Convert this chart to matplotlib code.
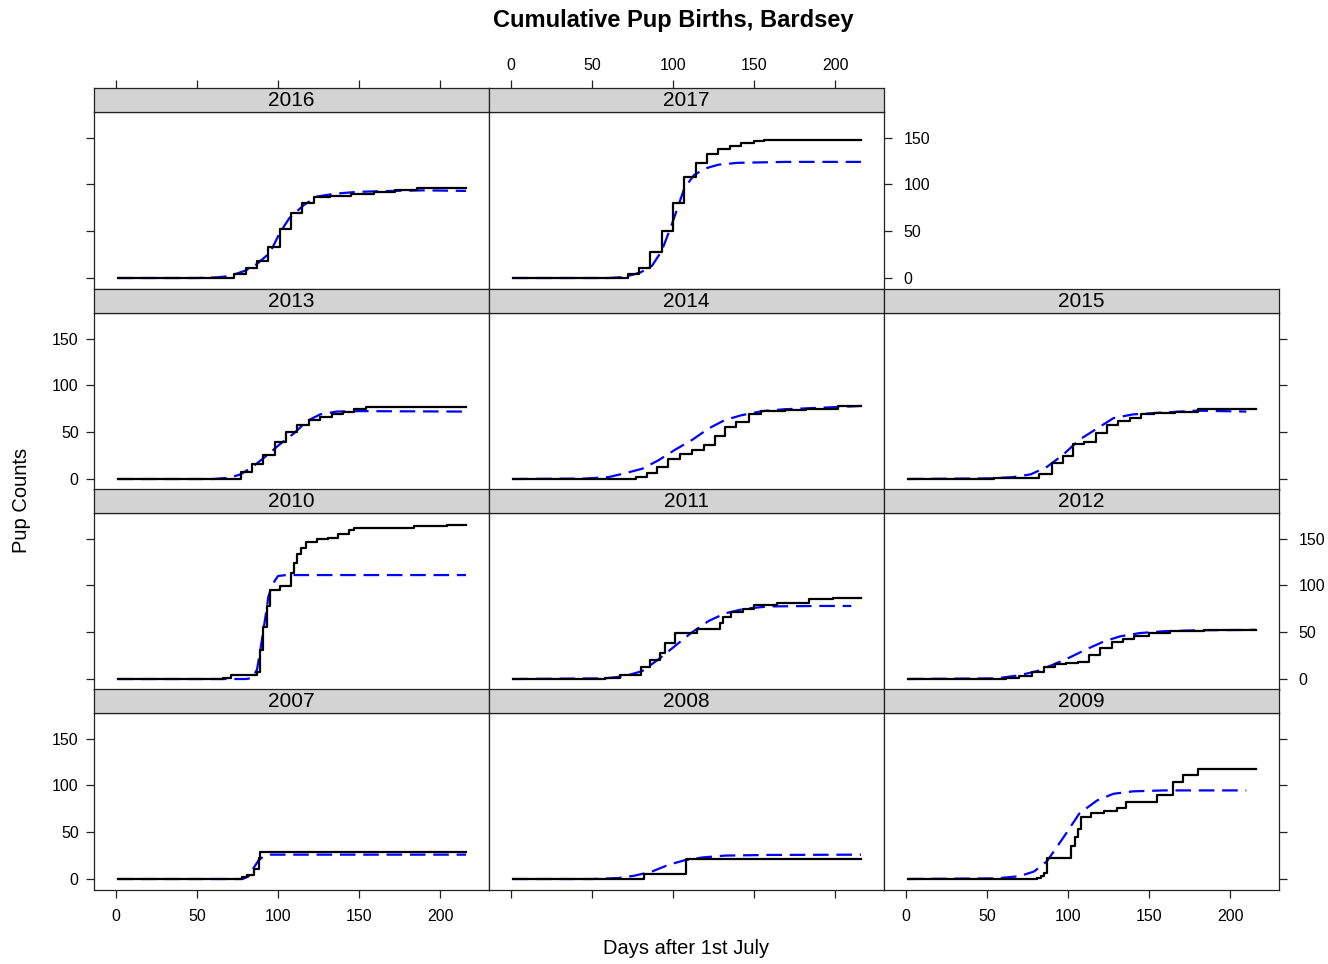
import numpy as np
from matplotlib import pyplot as plt

plt.rcParams['font.family'] = ['Liberation Sans', 'DejaVu Sans']

# observed cumulative pup counts (step data) and fitted curves, per season
obs_day_2016 = [1, 73, 80, 87, 94, 101, 108, 115, 122, 132, 145, 159, 172, 186, 216]
obs_n_2016 = [0, 4, 11, 18, 33, 52, 69, 80, 86, 88, 90, 92, 94, 96, 96]
fit_day_2016 = [1, 50, 62, 70, 80, 87, 95, 101, 107, 116, 124, 135, 149, 170, 190, 216]
fit_n_2016 = [0, 0, 0.7, 2, 8, 15, 27, 48, 64, 78, 87, 90, 92, 93, 93.6, 93]

obs_day_2017 = [1, 72, 79, 86, 93, 100, 107, 114, 121, 128, 135, 142, 150, 156, 216]
obs_n_2017 = [0, 4, 11, 28, 50, 80, 108, 123, 132, 138, 141, 144, 146, 147, 147]
fit_day_2017 = [1, 60, 70, 80, 87, 93, 99, 103, 107, 113, 120, 128, 140, 170, 216]
fit_n_2017 = [0, 0, 1, 6, 13, 29, 56, 76, 96, 110, 117, 121, 123, 124, 124]

obs_day_2013 = [1, 77, 84, 91, 98, 105, 112, 119, 126, 133, 140, 147, 154, 216]
obs_n_2013 = [0, 7, 16, 26, 40, 50, 58, 63, 66, 69, 72, 75, 77, 77]
fit_day_2013 = [1, 60, 70, 77, 85, 93, 101, 110, 118, 126, 136, 149, 216]
fit_n_2013 = [0, 0, 1.4, 5, 14, 25, 37, 49, 62, 69, 72, 72.5, 72]

obs_day_2014 = [1, 77, 84, 90, 97, 104, 112, 119, 126, 132, 139, 147, 154, 169, 182, 202, 216]
obs_n_2014 = [0, 2, 6, 13, 21, 27, 31, 36, 46, 56, 61, 69, 73, 74, 75, 78, 78]
fit_day_2014 = [1, 46, 60, 70, 81, 91, 101, 112, 122, 132, 142, 155, 169, 190, 216]
fit_n_2014 = [0, 0.5, 2, 6, 11, 20, 31, 42, 54, 63, 68, 72.5, 74.5, 76, 78]

obs_day_2015 = [1, 54, 82, 90, 97, 103, 110, 117, 124, 131, 138, 145, 153, 166, 180, 216]
obs_n_2015 = [0, 1, 5, 17, 25, 37, 40, 49, 58, 62, 65, 69, 71, 72, 75, 75]
fit_day_2015 = [1, 52, 66, 77, 87, 97, 107, 118, 128, 140, 159, 179, 210]
fit_n_2015 = [0, 0.7, 2, 5, 13, 26, 42, 54, 65, 69, 71, 73, 72]

obs_day_2010 = [1, 66, 71, 87, 89, 91, 93, 95, 101, 108, 110, 112, 114, 117, 124, 131, 137, 144, 147, 184, 204, 216]
obs_n_2010 = [0, 1, 4, 7, 31, 56, 78, 95, 99, 113, 124, 134, 140, 146, 149, 151, 155, 159, 161, 163, 164, 164]
fit_day_2010 = [1, 80, 84, 87, 89, 91, 93, 94, 96, 98, 100, 105, 216]
fit_n_2010 = [0, 0, 1, 10, 30, 53, 75, 88, 98, 105, 110, 111, 111]

obs_day_2011 = [1, 58, 67, 80, 86, 92, 95, 101, 115, 129, 131, 136, 143, 150, 164, 184, 199, 216]
obs_n_2011 = [0, 1, 4, 13, 20, 28, 38, 49, 53, 60, 66, 72, 75, 79, 81, 85, 87, 87]
fit_day_2011 = [1, 58, 70, 81, 91, 101, 111, 122, 132, 144, 159, 190, 210]
fit_n_2011 = [0, 0.7, 3, 8.5, 21, 35, 49, 62, 70, 75, 77.5, 78, 78]

obs_day_2012 = [1, 62, 70, 78, 85, 92, 99, 106, 113, 120, 127, 134, 141, 150, 163, 184, 216]
obs_n_2012 = [0, 1, 3, 8, 13, 16, 17, 18, 26, 33, 39, 43, 46, 49, 51, 52, 52]
fit_day_2012 = [1, 56, 70, 81, 91, 101, 111, 122, 132, 144, 159, 179, 216]
fit_n_2012 = [0, 0.7, 4, 8.5, 15.5, 23, 31.5, 40, 45.5, 49, 51, 52, 52.5]

obs_day_2007 = [1, 78, 81, 85, 88, 89, 216]
obs_n_2007 = [0, 2, 4, 11, 22, 29, 29]
fit_day_2007 = [1, 78, 82, 85, 88, 91, 95, 216]
fit_n_2007 = [0, 0, 3, 12, 20, 24, 26, 26]

obs_day_2008 = [1, 82, 108, 216]
obs_n_2008 = [0, 5, 21, 21]
fit_day_2008 = [1, 50, 66, 76, 87, 97, 107, 118, 132, 159, 216]
fit_n_2008 = [0, 0, 1, 3.5, 8, 15, 20, 23, 25, 25.7, 26]

obs_day_2009 = [1, 81, 83, 85, 87, 102, 104, 106, 108, 114, 122, 130, 136, 155, 165, 171, 180, 216]
obs_n_2009 = [0, 1, 3, 6, 22, 35, 45, 53, 66, 70, 73, 76, 82, 90, 104, 111, 118, 118]
fit_day_2009 = [1, 56, 70, 79, 87, 97, 107, 118, 128, 140, 159, 210]
fit_n_2009 = [0, 0.7, 3, 8, 19, 44, 70, 84, 91, 93.6, 94.6, 94.6]

panels = {
    2016: (0, 0, obs_day_2016, obs_n_2016, fit_day_2016, fit_n_2016),
    2017: (0, 1, obs_day_2017, obs_n_2017, fit_day_2017, fit_n_2017),
    2013: (1, 0, obs_day_2013, obs_n_2013, fit_day_2013, fit_n_2013),
    2014: (1, 1, obs_day_2014, obs_n_2014, fit_day_2014, fit_n_2014),
    2015: (1, 2, obs_day_2015, obs_n_2015, fit_day_2015, fit_n_2015),
    2010: (2, 0, obs_day_2010, obs_n_2010, fit_day_2010, fit_n_2010),
    2011: (2, 1, obs_day_2011, obs_n_2011, fit_day_2011, fit_n_2011),
    2012: (2, 2, obs_day_2012, obs_n_2012, fit_day_2012, fit_n_2012),
    2007: (3, 0, obs_day_2007, obs_n_2007, fit_day_2007, fit_n_2007),
    2008: (3, 1, obs_day_2008, obs_n_2008, fit_day_2008, fit_n_2008),
    2009: (3, 2, obs_day_2009, obs_n_2009, fit_day_2009, fit_n_2009),
}

x_ticks = [0, 50, 100, 150, 200]
y_ticks = [0, 50, 100, 150]
XLIM = (-13.6, 230.2)
YLIM = (-11.2, 177.8)

W, H = 1328, 964
fig = plt.figure(figsize=(W / 100, H / 100), dpi=100)


def px_axes(left, top, w, h):
    return fig.add_axes([left / W, 1 - (top + h) / H, w / W, h / H])


col_left = [94, 489, 884]
strip_top = [88, 289, 489, 689]
pw, sh = 395, 23.5
ph = 200.5 - sh
tick_kw = dict(direction='out', length=6, width=0.9, labelsize=11.5, pad=5, color='#222222')

for year, (r, c, od, on, fd, fn) in panels.items():
    ax = px_axes(col_left[c], strip_top[r] + sh, pw, ph)
    ax.plot(od, on, drawstyle='steps-post', color='black', lw=1.6, zorder=3)
    ax.plot(fd, fn, color='#0000FF', lw=1.6, dashes=(7, 3.5), zorder=2)
    ax.set_xlim(XLIM)
    ax.set_ylim(YLIM)
    ax.set_xticks(x_ticks)
    ax.set_yticks(y_ticks)
    ax.tick_params(**tick_kw)
    bottom = r == 3
    ax.tick_params(axis='x', bottom=bottom, top=False, labelbottom=bottom and c != 1,
                   labeltop=False, pad=8)
    left = c == 0
    right = (c == 2) or (r == 0 and c == 1)
    ax.tick_params(axis='y', left=left, labelleft=left and r in (1, 3),
                   right=right, labelright=right and r in (0, 2))
    if right:
        ax.tick_params(axis='y', pad=8)
    for s in ax.spines.values():
        s.set_color('#222222')
        s.set_linewidth(0.9)

    st = px_axes(col_left[c], strip_top[r], pw, sh)
    st.set_facecolor('#D3D3D3')
    st.set_xlim(XLIM)
    st.set_yticks([])
    st.set_xticks(x_ticks)
    st.tick_params(**tick_kw)
    top = r == 0
    st.tick_params(axis='x', bottom=False, labelbottom=False, top=top, labeltop=top and c == 1)
    for s in st.spines.values():
        s.set_color('#222222')
        s.set_linewidth(0.9)
    st.text(0.5, 0.45, str(year), transform=st.transAxes, ha='center', va='center', fontsize=15)

fig.text(673 / W, 1 - 20 / H, 'Cumulative Pup Births, Bardsey', ha='center', va='center',
         fontsize=17, fontweight='bold')
fig.text(686 / W, 1 - 948 / H, 'Days after 1st July', ha='center', va='center', fontsize=14.5)
fig.text(22 / W, 1 - 500 / H, 'Pup Counts', ha='center', va='center', rotation=90, fontsize=14.5)

fig.savefig('out.png', dpi=100)
